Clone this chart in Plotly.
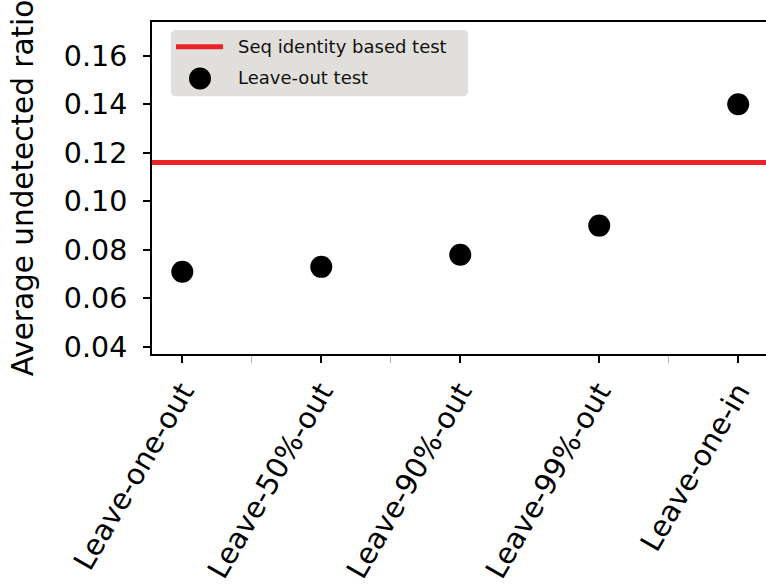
import plotly.graph_objects as go

# Test schemes and their average undetected ratio
schemes = ["Leave-one-out", "Leave-50%-out", "Leave-90%-out", "Leave-99%-out", "Leave-one-in"]
leave_out_ratio = [0.071, 0.073, 0.078, 0.090, 0.140]
seq_identity_ratio = 0.116

y_ticks = [0.04, 0.06, 0.08, 0.10, 0.12, 0.14, 0.16]
minor_x_ticks = [0.5, 1.5, 3.5]

FONT = "DejaVu Sans"
RED = "#ec2227"

W, H = 766, 584
ML, MR, MT, MB = 152, 0, 22, 227
PW, PH = W - ML - MR, H - MT - MB

x_pos = list(range(len(schemes)))

fig = go.Figure()
fig.add_trace(go.Scatter(
    x=x_pos, y=leave_out_ratio, mode="markers",
    marker=dict(size=22, color="black"),
    name="Leave-out test", showlegend=False,
))
fig.add_hline(y=seq_identity_ratio, line=dict(color=RED, width=5), layer="below")


def px_x(p):
    return (p - ML) / PW


def px_y(p):
    return (H - MB - p) / PH


# Legend box (rounded) drawn in paper coordinates
lx0, lx1, ly0, ly1, r = 171, 468, 30, 97, 5
rx, ry = r / PW, r / PH
X0, X1, Y0, Y1 = px_x(lx0), px_x(lx1), px_y(ly1), px_y(ly0)
path = (
    f"M {X0 + rx},{Y0} L {X1 - rx},{Y0} Q {X1},{Y0} {X1},{Y0 + ry} "
    f"L {X1},{Y1 - ry} Q {X1},{Y1} {X1 - rx},{Y1} "
    f"L {X0 + rx},{Y1} Q {X0},{Y1} {X0},{Y1 - ry} "
    f"L {X0},{Y0 + ry} Q {X0},{Y0} {X0 + rx},{Y0} Z"
)
fig.add_shape(type="path", path=path, xref="paper", yref="paper",
              fillcolor="#e1dfdb", line=dict(width=0), layer="above")
fig.add_shape(type="line", xref="paper", yref="paper",
              x0=px_x(176), x1=px_x(223), y0=px_y(47), y1=px_y(47),
              line=dict(color=RED, width=5), layer="above")
fig.add_shape(type="circle", xref="paper", yref="paper",
              x0=px_x(189), x1=px_x(211), y0=px_y(90), y1=px_y(68),
              fillcolor="black", line=dict(width=0), layer="above")
for label, yc in [("Seq identity based test", 47), ("Leave-out test", 78)]:
    fig.add_annotation(text=label, xref="paper", yref="paper",
                       x=px_x(236), y=px_y(yc), xanchor="left", yanchor="middle",
                       showarrow=False, font=dict(family=FONT, size=18, color="#111"))

fig.update_layout(
    width=W, height=H,
    margin=dict(l=ML, r=MR, t=MT, b=MB, pad=0),
    paper_bgcolor="white", plot_bgcolor="white",
    font=dict(family=FONT, color="black"),
    showlegend=False,
)
fig.update_xaxes(
    range=[-0.218, 4.2], tickvals=x_pos, ticktext=schemes, tickangle=-60,
    showgrid=False, zeroline=False,
    showline=True, linecolor="black", linewidth=2, mirror=True,
    ticks="outside", ticklen=7, tickwidth=2, tickcolor="black",
    tickfont=dict(family=FONT, size=29, color="black"),
    minor=dict(tickvals=minor_x_ticks, ticks="outside", ticklen=7,
               tickwidth=1, tickcolor="#b0b0b0", showgrid=False),
)
fig.update_yaxes(
    range=[0.0371, 0.1739], tickvals=y_ticks, tickformat=".2f",
    showgrid=False, zeroline=False,
    showline=True, linecolor="black", linewidth=2, mirror=False,
    ticks="outside", ticklen=7, tickwidth=1.5, tickcolor="black",
    ticklabelstandoff=10,
    tickfont=dict(family=FONT, size=28.5, color="black"),
    title=dict(text="Average undetected ratio", standoff=22,
               font=dict(family=FONT, size=29.5, color="black")),
)

fig.write_html("out.html")
